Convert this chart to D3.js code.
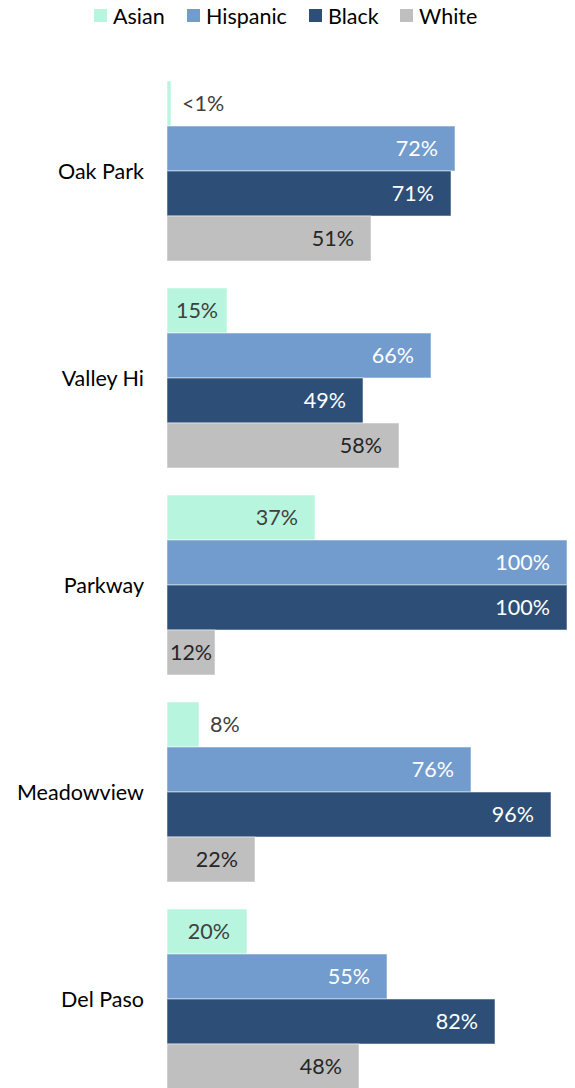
<!doctype html>
<head>
  <meta charset="utf-8">
  <script src="https://cdnjs.cloudflare.com/ajax/libs/d3/7.8.2/d3.min.js"></script>
</head>
<style>
    body { margin: 0; background: #fff; }
    text { font-family: Lato, "Open Sans", sans-serif; }
</style>
<body>
    <div id="chart"></div>
    <script>
        // Datos
        const areas = ["Oak Park", "Valley Hi", "Parkway", "Meadowview", "Del Paso"];
        const groups = ["Asian", "Hispanic", "Black", "White"];
        const asian    = [1, 15, 37, 8, 20];
        const hispanic = [72, 66, 100, 76, 55];
        const black    = [71, 49, 100, 96, 82];
        const white    = [51, 58, 12, 22, 48];
        const asianLabels = ["<1%", "15%", "37%", "8%", "20%"];

        const colors = { Asian: "#b8f5de", Hispanic: "#729ccd", Black: "#2d4f77", White: "#bfbfbf" };
        const textColors = { Asian: "#404040", Hispanic: "#ffffff", Black: "#ffffff", White: "#262626" };

        const width = 575, height = 1088;
        const x0 = 167, x1 = 567;
        const fontSize = 21.5;
        const pad = 17;

        const rows = [];
        areas.forEach((a, i) => {
            const vals = { Asian: asian[i], Hispanic: hispanic[i], Black: black[i], White: white[i] };
            groups.forEach(g => rows.push({
                area: a, group: g, value: vals[g],
                label: g === "Asian" ? asianLabels[i] : vals[g] + "%"
            }));
        });

        const svg = d3.select("#chart").append("svg")
            .attr("width", width).attr("height", height);

        const x = d3.scaleLinear().domain([0, 100]).range([x0, x1]);
        const y = d3.scaleBand().domain(areas).range([81, 1089]).paddingInner(27 / 207).paddingOuter(0);
        const yInner = d3.scaleBand().domain(groups).range([0, y.bandwidth()]);

        // Barras
        svg.selectAll(".bar").data(rows).enter().append("rect")
            .attr("x", x(0))
            .attr("y", d => y(d.area) + yInner(d.group))
            .attr("width", d => x(d.value) - x(0))
            .attr("height", yInner.bandwidth())
            .attr("fill", d => colors[d.group])
            .attr("stroke", "#ffffff")
            .attr("stroke-opacity", 0.5)
            .attr("stroke-width", 1);

        // Etiquetas de valor: fuera si < 10%, centradas si no caben al final, si no al final
        svg.selectAll(".lbl").data(rows).enter().append("text")
            .attr("y", d => y(d.area) + yInner(d.group) + yInner.bandwidth() / 2)
            .attr("dy", "0.36em")
            .attr("font-size", fontSize)
            .text(d => d.label)
            .each(function (d) {
                const tw = this.getComputedTextLength();
                const bw = x(d.value) - x(0);
                const t = d3.select(this);
                if (d.value < 10) {
                    t.attr("x", x(d.value) + 11).attr("text-anchor", "start").attr("fill", "#404040");
                } else if (bw < tw + 2 * pad) {
                    t.attr("x", x(0) + bw / 2).attr("text-anchor", "middle").attr("fill", textColors[d.group]);
                } else {
                    t.attr("x", x(d.value) - pad).attr("text-anchor", "end").attr("fill", textColors[d.group]);
                }
            });

        // Etiquetas de categoría
        svg.selectAll(".cat").data(areas).enter().append("text")
            .attr("x", 144)
            .attr("y", d => y(d) + y.bandwidth() / 2)
            .attr("dy", "0.36em")
            .attr("text-anchor", "end")
            .attr("font-size", fontSize)
            .attr("fill", "#000")
            .text(d => d);

        // Leyenda
        const legendX = [94, 187, 309, 400];
        const legend = svg.selectAll(".leg").data(groups).enter().append("g")
            .attr("transform", (d, i) => `translate(${legendX[i]}, 9)`);
        legend.append("rect").attr("width", 13).attr("height", 13).attr("fill", d => colors[d]);
        legend.append("text").attr("x", 19).attr("y", 7).attr("dy", "0.36em")
            .attr("font-size", fontSize).attr("fill", "#000").text(d => d);
    </script>
</body>
